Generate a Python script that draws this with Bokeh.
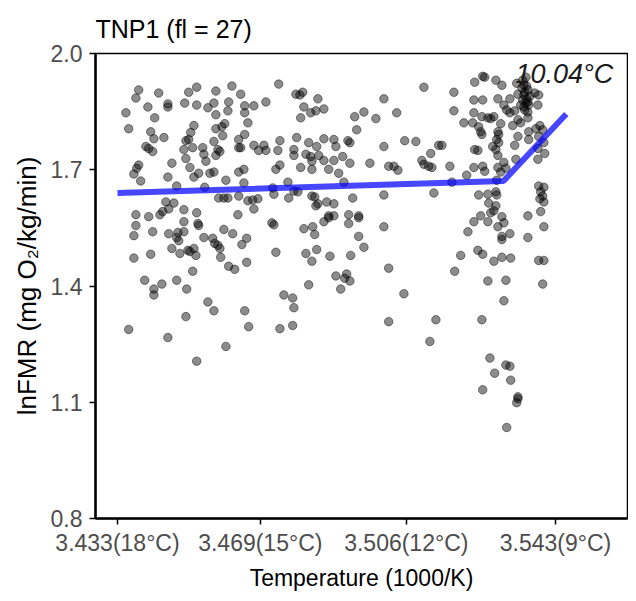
import math
from bokeh.plotting import figure
from bokeh.models import FixedTicker, Label, Range1d
from bokeh.embed import file_html
from bokeh.resources import INLINE

# ---- data (Temperature in 1000/K, lnFMR) ----
temp_x = [
    3.4400, 3.4393, 3.4450, 3.4368, 3.4375, 3.4423, 3.4440, 3.4473, 3.4473, 3.4430,
    3.4438, 3.4463, 3.4418, 3.4425, 3.4435, 3.4400, 3.4395, 3.4388, 3.4405, 3.4483,
    3.4473, 3.4495, 3.4525, 3.4545, 3.4515, 3.4545, 3.4593, 3.4588, 3.4573, 3.4593,
    3.4633, 3.4655, 3.4625, 3.4623, 3.4665, 3.4665, 3.4673, 3.4615, 3.4608, 3.4593,
    3.4610, 3.4538, 3.4530, 3.4518, 3.4513, 3.4535, 3.4525, 3.4518, 3.4528, 3.4560,
    3.4563, 3.4568, 3.4588, 3.4598, 3.4593, 3.4603, 3.4650, 3.4650, 3.4588, 3.4578,
    3.4550, 3.4538, 3.4618, 3.4650, 3.4663, 3.4663, 3.4565, 3.4468, 3.4488, 3.4475,
    3.4460, 3.4453, 3.4513, 3.4545, 3.4393, 3.4425, 3.4600, 3.4613, 3.4623, 3.4650,
    3.4648, 3.4673, 3.4393, 3.4388, 3.4435, 3.4513, 3.4548, 3.4550, 3.4475, 3.4498,
    3.4513, 3.4500, 3.4495, 3.4483, 3.4503, 3.4523, 3.4528, 3.4538, 3.4543, 3.4563,
    3.4585, 3.4590, 3.4598, 3.4603, 3.4605, 3.4613, 3.4635, 3.4670, 3.4658, 3.4670,
    3.4625, 3.4640, 3.4430, 3.4388, 3.4535, 3.4415, 3.4458, 3.4438, 3.4438, 3.4495,
    3.4520, 3.4573, 3.4588, 3.4665, 3.4675, 3.4518, 3.4375, 3.4473, 3.4618, 3.4545,
    3.4750, 3.4793, 3.4810, 3.4803, 3.4848, 3.4813, 3.4830, 3.4843, 3.4863, 3.4805,
    3.4718, 3.4688, 3.4665, 3.4655, 3.4688, 3.4700, 3.4713, 3.4718, 3.4748, 3.4753,
    3.4788, 3.4788, 3.4795, 3.4825, 3.4845, 3.4818, 3.4830, 3.4850, 3.4833, 3.4833,
    3.4805, 3.4863, 3.4863, 3.4888, 3.4893, 3.4923, 3.4928, 3.4888, 3.4910, 3.4928,
    3.4875, 3.4900, 3.4913, 3.4940, 3.4963, 3.4993, 3.4945, 3.5013, 3.5013, 3.4978,
    3.5013, 3.5025, 3.4753, 3.4743, 3.4773, 3.4735, 3.4738, 3.4685, 3.4698, 3.4688,
    3.4775, 3.4788, 3.4798, 3.4833, 3.4840, 3.4848, 3.4843, 3.4870, 3.4888, 3.4935,
    3.4875, 3.4888, 3.4925, 3.4950, 3.4733, 3.4738, 3.4813, 3.4835, 3.4840, 3.4863,
    3.4875, 3.4925, 3.4950, 3.5013, 3.4743, 3.4818, 3.4845, 3.4833, 3.4878, 3.4930,
    3.4950, 3.4963, 3.5025, 3.4893, 3.4920, 3.4915, 3.4928, 3.4905, 3.4825, 3.4763,
    3.4785, 3.4788, 3.4753, 3.4785, 3.5025, 3.5113, 3.5188, 3.5188, 3.5045, 3.5065,
    3.5093, 3.5150, 3.5158, 3.5130, 3.5108, 3.5113, 3.5125, 3.5133, 3.5038, 3.5048,
    3.5178, 3.5220, 3.5183, 3.5138, 3.5240, 3.5260, 3.5265, 3.5293, 3.5308, 3.5345,
    3.5363, 3.5368, 3.5373, 3.5363, 3.5348, 3.5370, 3.5373, 3.5375, 3.5363, 3.5373,
    3.5390, 3.5398, 3.5400, 3.5238, 3.5260, 3.5298, 3.5328, 3.5313, 3.5320, 3.5328,
    3.5340, 3.5348, 3.5373, 3.5238, 3.5258, 3.5273, 3.5280, 3.5288, 3.5235, 3.5250,
    3.5255, 3.5258, 3.5213, 3.5305, 3.5335, 3.5355, 3.5298, 3.5300, 3.5295, 3.5300,
    3.5285, 3.5293, 3.5298, 3.5340, 3.5348, 3.5375, 3.5375, 3.5393, 3.5403, 3.5410,
    3.5400, 3.5413, 3.5398, 3.5415, 3.5398, 3.5343, 3.5240, 3.5248, 3.5260, 3.5265,
    3.5298, 3.5313, 3.5318, 3.5305, 3.5295, 3.5238, 3.5250, 3.5273, 3.5293, 3.5295,
    3.5275, 3.5293, 3.5255, 3.5280, 3.5308, 3.5373, 3.5405, 3.5400, 3.5413, 3.5405,
    3.5410, 3.5403, 3.5413, 3.5063, 3.5143, 3.5128, 3.5190, 3.5205, 3.5223, 3.5238,
    3.5273, 3.5288, 3.5298, 3.5313, 3.5308, 3.5308, 3.5328, 3.5248, 3.5260, 3.5288,
    3.5308, 3.5330, 3.5273, 3.5318, 3.5313, 3.5258, 3.5413, 3.5373, 3.5400, 3.5413,
    3.5410, 3.5278, 3.5318, 3.5328, 3.5290, 3.5330, 3.5260, 3.5348, 3.5348, 3.5345,
    3.5320, 3.5358, 3.5365, 3.5368, 3.5360, 3.5370, 3.5355, 3.5365, 3.5378, 3.5360,
]
lnfmr = [
    1.906, 1.885, 1.898, 1.847, 1.806, 1.862, 1.834, 1.870, 1.862, 1.798,
    1.780, 1.783, 1.760, 1.755, 1.747, 1.712, 1.704, 1.689, 1.671, 1.717,
    1.681, 1.658, 1.900, 1.913, 1.872, 1.867, 1.903, 1.872, 1.860, 1.842,
    1.916, 1.895, 1.875, 1.852, 1.865, 1.847, 1.821, 1.819, 1.811, 1.806,
    1.788, 1.814, 1.796, 1.775, 1.752, 1.757, 1.778, 1.729, 1.706, 1.757,
    1.740, 1.722, 1.773, 1.752, 1.737, 1.747, 1.778, 1.757, 1.694, 1.691,
    1.691, 1.681, 1.673, 1.694, 1.701, 1.666, 1.655, 1.617, 1.614, 1.599,
    1.592, 1.584, 1.597, 1.589, 1.584, 1.579, 1.627, 1.627, 1.627, 1.632,
    1.584, 1.620, 1.556, 1.530, 1.540, 1.566, 1.561, 1.556, 1.535, 1.538,
    1.540, 1.517, 1.525, 1.497, 1.484, 1.492, 1.489, 1.497, 1.479, 1.525,
    1.523, 1.510, 1.505, 1.497, 1.474, 1.546, 1.535, 1.523, 1.507, 1.461,
    1.451, 1.443, 1.482, 1.472, 1.438, 1.415, 1.405, 1.392, 1.377, 1.415,
    1.392, 1.359, 1.336, 1.336, 1.295, 1.321, 1.288, 1.267, 1.244, 1.206,
    1.921, 1.895, 1.900, 1.893, 1.883, 1.862, 1.847, 1.852, 1.857, 1.834,
    1.875, 1.865, 1.791, 1.757, 1.763, 1.750, 1.763, 1.750, 1.750, 1.775,
    1.752, 1.737, 1.783, 1.770, 1.760, 1.740, 1.734, 1.737, 1.722, 1.701,
    1.706, 1.724, 1.780, 1.778, 1.760, 1.775, 1.770, 1.724, 1.734, 1.717,
    1.701, 1.691, 1.668, 1.837, 1.849, 1.832, 1.803, 1.883, 1.760, 1.717,
    1.635, 1.709, 1.712, 1.701, 1.668, 1.653, 1.637, 1.622, 1.625, 1.599,
    1.627, 1.645, 1.643, 1.632, 1.630, 1.612, 1.607, 1.617, 1.612, 1.627,
    1.581, 1.581, 1.584, 1.581, 1.563, 1.558, 1.548, 1.553, 1.533, 1.566,
    1.576, 1.561, 1.576, 1.553, 1.487, 1.484, 1.494, 1.464, 1.477, 1.479,
    1.528, 1.500, 1.446, 1.426, 1.431, 1.420, 1.413, 1.392, 1.403, 1.377,
    1.369, 1.344, 1.290, 1.298, 1.308, 1.913, 1.900, 1.852, 1.847, 1.775,
    1.773, 1.763, 1.763, 1.742, 1.724, 1.714, 1.709, 1.706, 1.709, 1.699,
    1.709, 1.686, 1.668, 1.640, 1.926, 1.941, 1.939, 1.931, 1.918, 1.923,
    1.918, 1.939, 1.906, 1.893, 1.895, 1.883, 1.875, 1.867, 1.862, 1.849,
    1.898, 1.867, 1.893, 1.880, 1.880, 1.883, 1.883, 1.867, 1.854, 1.847,
    1.852, 1.829, 1.834, 1.847, 1.837, 1.834, 1.832, 1.837, 1.821, 1.811,
    1.798, 1.791, 1.821, 1.819, 1.814, 1.821, 1.798, 1.791, 1.778, 1.770,
    1.760, 1.752, 1.737, 1.763, 1.786, 1.778, 1.798, 1.806, 1.814, 1.803,
    1.786, 1.770, 1.755, 1.742, 1.727, 1.727, 1.752, 1.750, 1.709, 1.696,
    1.706, 1.719, 1.704, 1.694, 1.673, 1.706, 1.635, 1.637, 1.643, 1.635,
    1.614, 1.607, 1.581, 1.589, 1.579, 1.581, 1.592, 1.658, 1.655, 1.643,
    1.632, 1.625, 1.617, 1.380, 1.313, 1.257, 1.438, 1.479, 1.540, 1.566,
    1.566, 1.594, 1.553, 1.563, 1.528, 1.520, 1.535, 1.492, 1.482, 1.464,
    1.474, 1.472, 1.413, 1.415, 1.362, 1.313, 1.553, 1.525, 1.466, 1.466,
    1.405, 1.214, 1.196, 1.193, 1.175, 1.157, 1.132, 1.114, 1.109, 1.099,
    1.035, 1.911, 1.900, 1.872, 1.880, 1.916, 1.867, 1.854, 1.890, 1.931,
]

# segmented-regression fit (start, breakpoint, end)
fit_x = [3.4347, 3.5312, 3.5469]
fit_y = [1.640, 1.671, 1.844]
break_temp = 10.04
break_label_pos = (3.5342, 1.946)

title_text = "TNP1 (fl = 27)"
x_title = "Temperature (1000/K)"
y_title = "lnFMR (mg O\u2082/kg/min)"

x_tick_temps = [18, 15, 12, 9]
x_tick_labels = ["3.433(18°C)", "3.469(15°C)", "3.506(12°C)", "3.543(9°C)"]
y_ticks = [0.8, 1.1, 1.4, 1.7, 2.0]
y_tick_labels = ["0.8", "1.1", "1.4", "1.7", "2.0"]

FONT = "Liberation Sans"

p = figure(
    width=628, height=593,
    x_range=Range1d(3.4292, 3.5622), y_range=Range1d(0.8, 2.0),
    output_backend="svg", toolbar_location=None,
    min_border_left=95, min_border_right=1, min_border_top=53, min_border_bottom=71,
)

p.scatter(temp_x, lnfmr, size=8.5, fill_color="black", fill_alpha=0.45,
          line_color="black", line_alpha=0.45, line_width=1)
p.line(fit_x, fit_y, line_color="blue", line_width=6, line_alpha=0.72)

p.add_layout(Label(x=break_label_pos[0], y=break_label_pos[1], text=f"{break_temp:.2f}°C",
                   text_font=FONT, text_font_style="italic", text_font_size="27px",
                   text_color="#1a1a1a", text_baseline="alphabetic", text_align="left"))

# axes
xt = [round(1000.0 / (273.15 + t), 4) for t in x_tick_temps]
p.xaxis.ticker = FixedTicker(ticks=xt)
p.xaxis.major_label_overrides = {v: s for v, s in zip(xt, x_tick_labels)}
p.yaxis.ticker = FixedTicker(ticks=y_ticks)
p.yaxis.major_label_overrides = {v: s for v, s in zip(y_ticks, y_tick_labels)}

for ax in (p.xaxis, p.yaxis):
    ax.axis_line_color = "black"
    ax.axis_line_width = 2.5
    ax.major_tick_line_color = "black"
    ax.major_tick_line_width = 1.5
    ax.major_tick_out = 6
    ax.major_tick_in = 0
    ax.minor_tick_line_color = None
    ax.major_label_text_font = FONT
    ax.major_label_text_font_size = "23px"
    ax.major_label_text_color = "#4d4d4d"
    ax.axis_label_text_font = FONT
    ax.axis_label_text_font_style = "normal"
    ax.axis_label_text_color = "black"

p.xaxis.major_label_standoff = 5
p.yaxis.major_label_standoff = 7
p.xaxis.axis_label = x_title
p.xaxis.axis_label_text_font_size = "23px"
p.xaxis.axis_label_standoff = 6
p.yaxis.axis_label = y_title
p.yaxis.axis_label_text_font_size = "26px"
p.yaxis.axis_label_standoff = 6

p.grid.visible = False
p.outline_line_color = "black"
p.outline_line_width = 1.5
p.background_fill_color = "white"
p.border_fill_color = "white"

p.title.text = title_text
p.title.text_font = FONT
p.title.text_font_size = "25px"
p.title.text_font_style = "normal"
p.title.text_color = "black"
p.title.align = "left"
p.title.standoff = 21

open("out.html", "w").write(file_html(p, INLINE))
